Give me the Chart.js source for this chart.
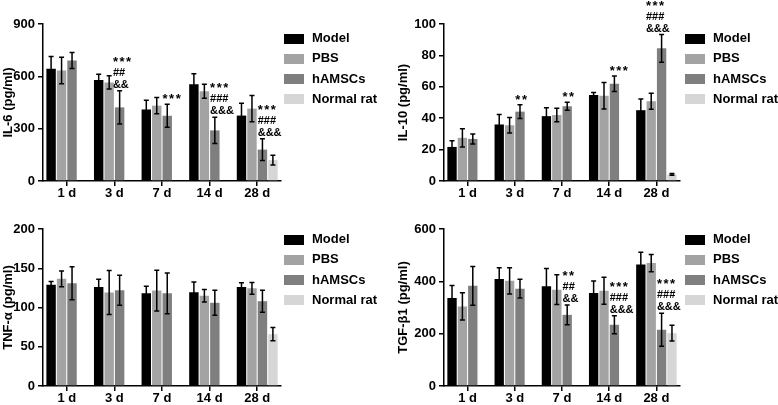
<!DOCTYPE html>
<html>
<head>
<meta charset="utf-8">
<script src="https://cdn.jsdelivr.net/npm/chart.js@4/dist/chart.umd.min.js"></script>
<style>
body { margin: 0; background: #fff; }
.painel { position: absolute; }
</style>
</head>
<body>
<div class="painel" style="left:0;top:0"><canvas id="il6" width="389" height="202"></canvas></div>
<div class="painel" style="left:389px;top:0"><canvas id="il10" width="389" height="202"></canvas></div>
<div class="painel" style="left:0;top:202px"><canvas id="tnf" width="389" height="203"></canvas></div>
<div class="painel" style="left:389px;top:202px"><canvas id="tgf" width="389" height="203"></canvas></div>
<script>
var dias = ["1 d", "3 d", "7 d", "14 d", "28 d"];
var grupos = ["Model", "PBS", "hAMSCs", "Normal rat"];
var cores = ["#000000", "#a3a3a3", "#7f7f7f", "#d6d6d6"];

// IL-6 (pg/ml)
var il6Model = [643, 579, 410, 555, 375];
var il6ModelErr = [71, 33, 53, 60, 70];
var il6Pbs = [633, 565, 432, 515, 415];
var il6PbsErr = [76, 38, 46, 40, 75];
var il6Hamscs = [691, 422, 374, 290, 180];
var il6HamscsErr = [46, 95, 66, 75, 62];
var il6Normal = [null, null, null, null, 120];
var il6NormalErr = [0, 0, 0, 0, 28];
var il6Marcas = [null, ["***", "##", "&&"], ["***"], ["***", "###", "&&&"], ["***", "###", "&&&"]];

// IL-10 (pg/ml)
var il10Model = [21.7, 36, 41.3, 54.7, 45.1];
var il10ModelErr = [4, 6.3, 5.3, 1.7, 7.2];
var il10Pbs = [27.5, 35.5, 42, 54.3, 50.8];
var il10PbsErr = [5.8, 5, 4.3, 8.5, 5.1];
var il10Hamscs = [26.8, 44.2, 47.6, 61.9, 84.5];
var il10HamscsErr = [3.2, 4.4, 2.5, 4.9, 8.8];
var il10Normal = [null, null, null, null, 4.2];
var il10NormalErr = [0, 0, 0, 0, 0.6];
var il10Marcas = [null, ["**"], ["**"], ["***"], ["***", "###", "&&&"]];

// TNF-α (pg/ml)
var tnfModel = [129, 126, 118, 119.5, 126];
var tnfModelErr = [4, 10, 9, 13, 5.5];
var tnfPbs = [136.5, 119, 121.5, 115, 124.5];
var tnfPbsErr = [10, 28, 26, 8, 7.5];
var tnfHamscs = [131, 122, 118, 106, 108];
var tnfHamscsErr = [21, 19, 26, 16, 14];
var tnfNormal = [null, null, null, null, 66];
var tnfNormalErr = [0, 0, 0, 0, 8.5];
var tnfMarcas = [null, null, null, null, null];

// TGF-β1 (pg/ml)
var tgfModel = [336, 409, 381, 355, 464];
var tgfModelErr = [48, 43, 68, 46, 47];
var tgfPbs = [304, 402, 368, 364, 470];
var tgfPbsErr = [52, 50, 57, 52, 33];
var tgfHamscs = [383, 372, 272, 234, 215];
var tgfHamscsErr = [74, 36, 38, 34, 63];
var tgfNormal = [null, null, null, null, 202];
var tgfNormalErr = [0, 0, 0, 0, 30];
var tgfMarcas = [null, null, ["**", "##", "&&"], ["***", "###", "&&&"], ["***", "###", "&&&"]];

Chart.defaults.font.family = "'Liberation Sans', Arial, sans-serif";
Chart.defaults.color = "#000";

function fonte(tam) {
    return { size: tam, weight: "bold", family: "'Liberation Sans', Arial, sans-serif" };
}

// barras de erro, marcas de significância e legenda
var barrasErro = {
    id: "barrasErro",
    afterDatasetsDraw: function (chart) {
        var ctx = chart.ctx;
        var escala = chart.scales.y;
        ctx.save();
        chart.data.datasets.forEach(function (ds, i) {
            var meta = chart.getDatasetMeta(i);
            meta.data.forEach(function (barra, j) {
                var v = ds.data[j];
                if (v == null) return;
                var e = ds.erros[j];
                var yTopo = escala.getPixelForValue(v + e);
                var yBase = escala.getPixelForValue(Math.max(0, v - e));
                ctx.strokeStyle = "#000";
                ctx.lineWidth = 1.5;
                ctx.beginPath();
                ctx.moveTo(barra.x, yTopo);
                ctx.lineTo(barra.x, yBase);
                ctx.moveTo(barra.x - 2.5, yTopo);
                ctx.lineTo(barra.x + 2.5, yTopo);
                ctx.moveTo(barra.x - 2.5, yBase);
                ctx.lineTo(barra.x + 2.5, yBase);
                ctx.stroke();

                if (!ds.marcas || !ds.marcas[j]) return;
                var linhas = ds.marcas[j];
                var dx = ds.marcasDx ? ds.marcasDx[j] : 0;
                ctx.fillStyle = "#000";
                ctx.textAlign = "left";
                ctx.textBaseline = "alphabetic";
                var xTexto = barra.x - barra.width / 2 + dx;
                var yTexto = yTopo - 3;
                for (var k = linhas.length - 1; k >= 0; k--) {
                    if (linhas[k].charAt(0) === "*") {
                        ctx.font = "bold 13px 'Liberation Sans', Arial, sans-serif";
                        ctx.letterSpacing = "1.5px";
                        ctx.fillText(linhas[k], xTexto, yTexto + 2);
                    } else {
                        ctx.font = "bold 11px 'Liberation Sans', Arial, sans-serif";
                        ctx.letterSpacing = "0px";
                        ctx.fillText(linhas[k], xTexto, yTexto);
                    }
                    yTexto -= 12;
                }
            });
        });
        ctx.restore();
    },
    afterDraw: function (chart) {
        var ctx = chart.ctx;
        var leg = chart.options.plugins.barrasErro;
        ctx.save();
        ctx.font = "bold 13px 'Liberation Sans', Arial, sans-serif";
        ctx.textAlign = "left";
        ctx.textBaseline = "middle";
        chart.data.datasets.forEach(function (ds, i) {
            var y = leg.y + i * 20.3;
            ctx.fillStyle = ds.backgroundColor;
            ctx.fillRect(leg.x, Math.round(y - 4.5), 20, 10);
            ctx.fillStyle = "#000";
            ctx.fillText(ds.label, leg.x + 28, y + 0.5);
        });
        ctx.restore();
    }
};

function criarGrafico(id, titulo, maxY, passo, series, erros, marcas, marcasDx, caixa) {
    var ctx = document.getElementById(id).getContext("2d");
    var datasets = grupos.map(function (g, i) {
        return {
            label: g,
            data: series[i],
            erros: erros[i],
            marcas: i === 2 ? marcas : null,
            marcasDx: i === 2 ? marcasDx : null,
            backgroundColor: cores[i],
            borderWidth: 0,
            categoryPercentage: 0.88,
            barPercentage: 0.9
        };
    });

    return new Chart(ctx, {
        type: "bar",
        data: { labels: dias, datasets: datasets },
        options: {
            responsive: false,
            animation: false,
            layout: { padding: { top: caixa.top, left: caixa.left, right: caixa.right, bottom: 0 } },
            plugins: {
                legend: { display: false },
                tooltip: { enabled: false },
                barrasErro: { x: caixa.legX, y: caixa.legY }
            },
            scales: {
                x: {
                    grid: { display: true, drawOnChartArea: false, offset: false, tickLength: 5, color: "#000", lineWidth: 1.5 },
                    border: { color: "#000", width: 1.5 },
                    ticks: { color: "#000", font: fonte(13), padding: 0, maxRotation: 0 },
                    afterFit: function (s) { s.height = caixa.xAltura; }
                },
                y: {
                    min: 0,
                    max: maxY,
                    ticks: { stepSize: passo, color: "#000", font: fonte(13), padding: 3 },
                    grid: { drawOnChartArea: false, tickLength: 5, color: "#000", lineWidth: 1.5 },
                    border: { color: "#000", width: 1.5 },
                    title: { display: true, text: titulo, color: "#000", font: fonte(13), padding: { top: 1, bottom: 0 } },
                    afterFit: function (s) { s.width = caixa.yLargura; }
                }
            }
        },
        plugins: [barrasErro]
    });
}

criarGrafico("il6", "IL-6 (pg/ml)", 900, 300,
    [il6Model, il6Pbs, il6Hamscs, il6Normal],
    [il6ModelErr, il6PbsErr, il6HamscsErr, il6NormalErr],
    il6Marcas, [0, -2, 0, 0, 0],
    { top: 24, left: 0, right: 108, yLargura: 43, xAltura: 21, legX: 284, legY: 38 });

criarGrafico("il10", "IL-10 (pg/ml)", 100, 20,
    [il10Model, il10Pbs, il10Hamscs, il10Normal],
    [il10ModelErr, il10PbsErr, il10HamscsErr, il10NormalErr],
    il10Marcas, [0, 0, 0, 0, -11],
    { top: 24, left: 6, right: 98, yLargura: 49, xAltura: 21, legX: 296, legY: 38 });

criarGrafico("tnf", "TNF-α (pg/ml)", 200, 50,
    [tnfModel, tnfPbs, tnfHamscs, tnfNormal],
    [tnfModelErr, tnfPbsErr, tnfHamscsErr, tnfNormalErr],
    tnfMarcas, [0, 0, 0, 0, 0],
    { top: 27, left: 0, right: 108, yLargura: 43, xAltura: 19, legX: 284, legY: 37 });

criarGrafico("tgf", "TGF-β1 (pg/ml)", 600, 200,
    [tgfModel, tgfPbs, tgfHamscs, tgfNormal],
    [tgfModelErr, tgfPbsErr, tgfHamscsErr, tgfNormalErr],
    tgfMarcas, [0, 0, 0, 0, 0],
    { top: 27, left: 6, right: 98, yLargura: 49, xAltura: 19, legX: 296, legY: 37 });
</script>
</body>
</html>
